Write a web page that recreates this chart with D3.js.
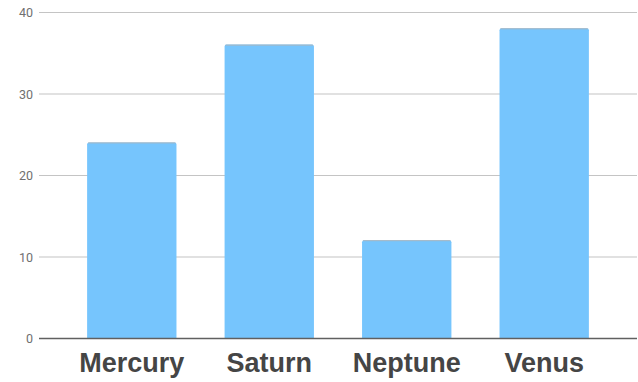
<!DOCTYPE html>
<html>
<head>
<meta charset="utf-8">
<script src="https://cdn.jsdelivr.net/npm/d3@7"></script>
<style>
  html, body { margin: 0; padding: 0; background: #fff; }
  svg { display: block; }
</style>
</head>
<body>
<svg id="chart" width="638" height="382"></svg>
<script>
const categories = ["Mercury", "Saturn", "Neptune", "Venus"];
const values = [24, 36, 12, 38];
const yTicks = [0, 10, 20, 30, 40];

(function () {
const svg = d3.select("#chart");
const pLeft = 39, pRight = 637, pTop = 12, pBottom = 338;

const x = d3.scaleBand().domain(categories).range([pLeft, pRight]).padding(0.35);
const y = d3.scaleLinear().domain([0, 40]).range([pBottom, pTop]);

// gridlines
svg.append("g").selectAll("line").data(yTicks.filter(d => d !== 0)).join("line")
  .attr("x1", pLeft).attr("x2", pRight)
  .attr("y1", d => y(d) + 0.5).attr("y2", d => y(d) + 0.5)
  .attr("stroke", "#c4c4c4").attr("stroke-width", 1.2);

// tick labels
svg.append("g").selectAll("text").data(yTicks).join("text")
  .attr("x", 33).attr("y", d => y(d) + 0.5)
  .attr("text-anchor", "end").attr("dominant-baseline", "central")
  .attr("font-family", "Roboto, Arial, sans-serif").attr("font-size", 12.5)
  .attr("fill", "#707070")
  .text(d => d);

// bars
const bars = svg.append("g");
categories.forEach((c, i) => {
  const bx = x(c), bw = x.bandwidth(), by = y(values[i]);
  const r = 2;
  bars.append("path")
    .attr("d", `M${bx},${pBottom} V${by + r} Q${bx},${by} ${bx + r},${by} H${bx + bw - r} Q${bx + bw},${by} ${bx + bw},${by + r} V${pBottom} Z`)
    .attr("fill", "#76c5fd");
  bars.append("line")
    .attr("x1", bx + 1).attr("x2", bx + bw - 1)
    .attr("y1", by + 0.5).attr("y2", by + 0.5)
    .attr("stroke", "#a9b5bf").attr("stroke-width", 1);
});

// baseline
svg.append("line")
  .attr("x1", pLeft).attr("x2", pRight)
  .attr("y1", pBottom + 0.5).attr("y2", pBottom + 0.5)
  .attr("stroke", "#606060").attr("stroke-width", 1.5);

// category labels
svg.append("g").selectAll("text").data(categories).join("text")
  .attr("x", d => x(d) + x.bandwidth() / 2).attr("y", 372)
  .attr("text-anchor", "middle")
  .attr("font-family", "'Liberation Sans', Arial, sans-serif").attr("font-weight", "bold")
  .attr("font-size", 27).attr("fill", "#454545")
  .text(d => d);
})();
</script>
</body>
</html>
